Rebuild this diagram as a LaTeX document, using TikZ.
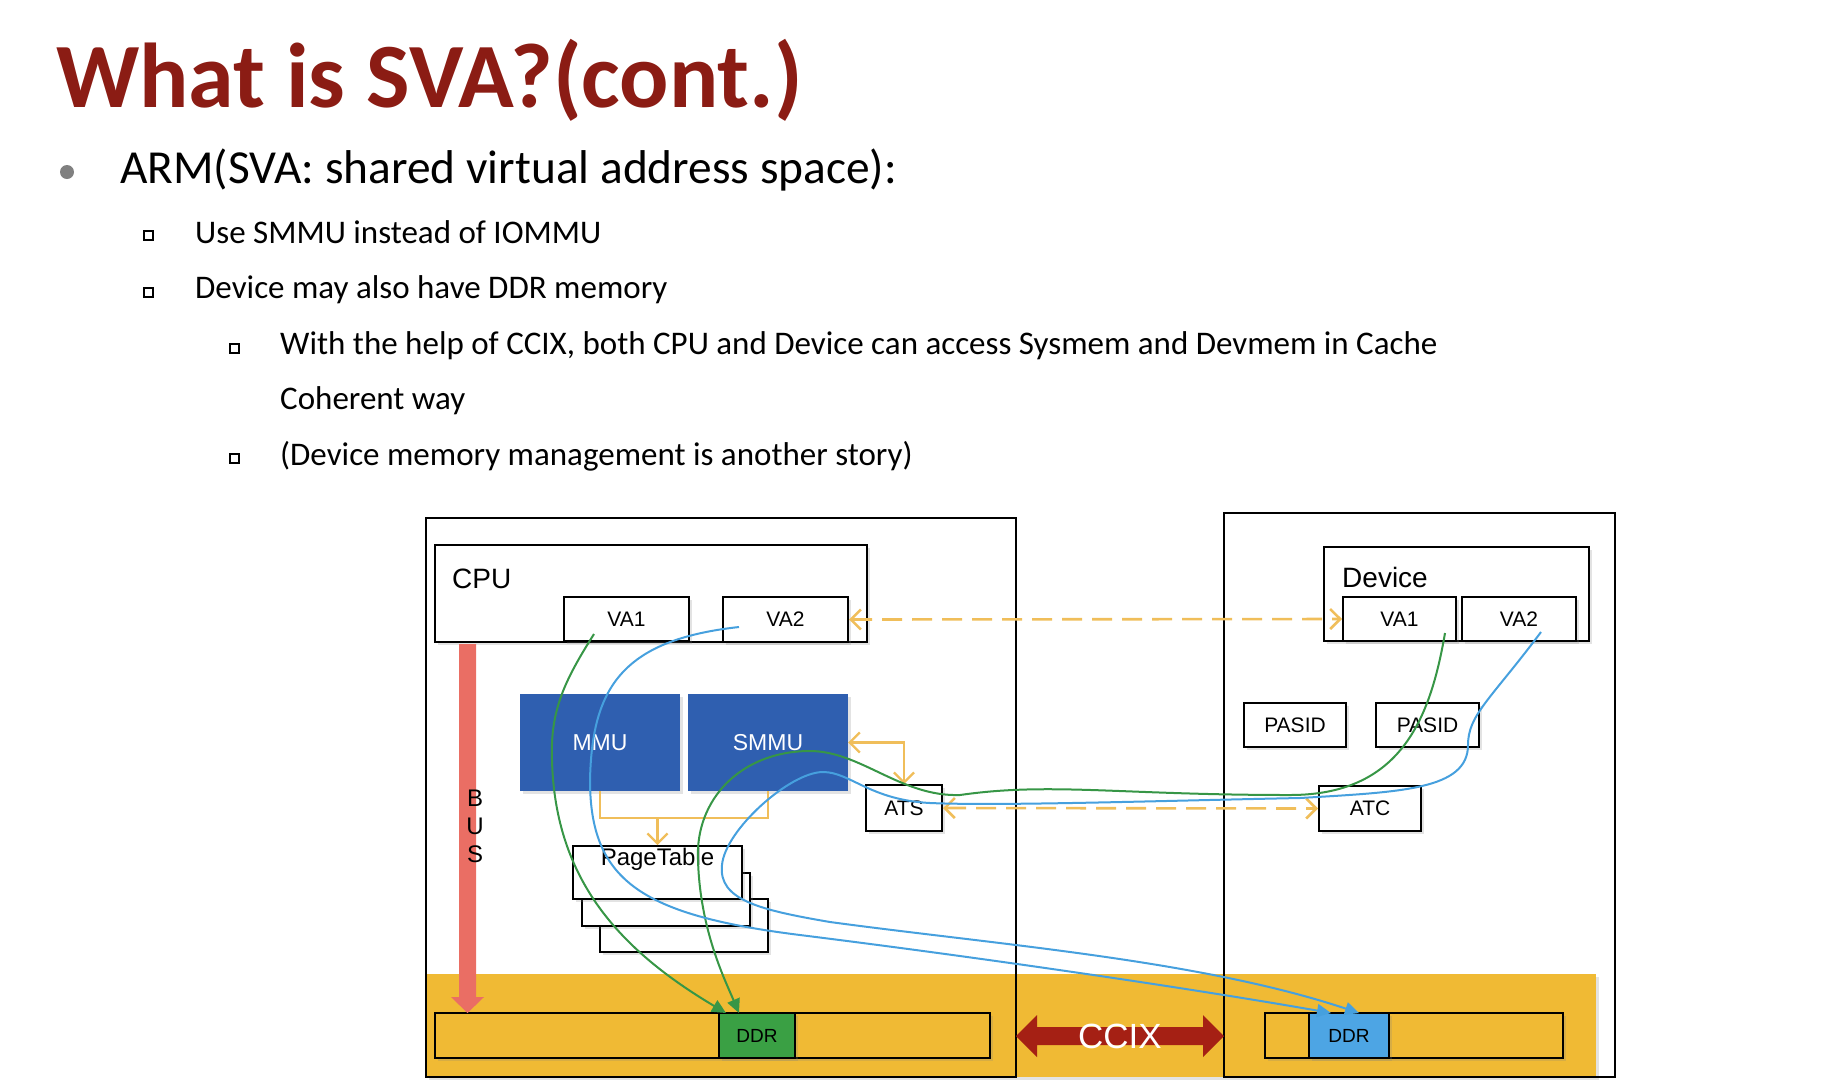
\documentclass[tikz,border=0pt]{standalone}
\usepackage{fontspec}
\setmainfont{Carlito}
\newfontfamily\arialf{Liberation Sans}
\usetikzlibrary{arrows.meta,shadows,calc}
\definecolor{titlered}{RGB}{139,28,20}
\definecolor{bandor}{RGB}{240,186,52}
\definecolor{mmublue}{RGB}{47,95,176}
\definecolor{ddrgreen}{RGB}{58,160,68}
\definecolor{ddrblue}{RGB}{77,165,228}
\definecolor{yel}{RGB}{240,190,90}
\definecolor{gline}{RGB}{55,150,70}
\definecolor{bline}{RGB}{70,160,222}
\definecolor{busred}{RGB}{234,110,100}
\definecolor{ccixred}{RGB}{165,32,20}
\begin{document}
\begin{tikzpicture}[x=1pt,y=-1pt,
  shd/.style={drop shadow={opacity=0.22,shadow xshift=3pt,shadow yshift=-3pt}},
  box/.style={draw,line width=2pt,fill=white,inner sep=0pt,shd,font=\arialf\fontsize{21}{21}\selectfont},
  bluebox/.style={fill=mmublue,inner sep=0pt,shd,text=white,font=\arialf\fontsize{23}{23}\selectfont},
  outer/.style={draw,line width=2pt,inner sep=0pt},
  bartxt/.style={font=\arialf\fontsize{19}{19}\selectfont},
  yline/.style={draw=yel,line width=2.2pt},
  ydash/.style={draw=yel,line width=2.6pt,dash pattern=on 20pt off 10pt},
  gcurve/.style={draw=gline,line width=2pt,-{Triangle[length=14pt,width=13pt]}},
  bcurve/.style={draw=bline,line width=2pt,-{Triangle[length=14pt,width=13pt]}},
  txt/.style={anchor=base west,inner sep=0pt},
  subtxt/.style={txt,font=\fontsize{33}{33}\selectfont},
  sq/.style={draw,line width=2pt,minimum size=9pt,inner sep=0pt}
]
\useasboundingbox (0,0) rectangle (1846,1088);
% ---------- text ----------
\node[txt,text=titlered,font=\bfseries\fontsize{92}{92}\selectfont] (title) at (56,107) {What is SVA?(cont.)};
\node[circle,fill=black!50,minimum size=14pt,inner sep=0pt] (b0) at (67,172) {};
\node[txt,font=\fontsize{47.4}{47.4}\selectfont] (l0) at (120,183) {ARM(SVA: shared virtual address space):};
\node[sq] (s1) at (148,235) {};
\node[subtxt] (l1) at (195,243) {Use SMMU instead of IOMMU};
\node[sq] (s2) at (148,292) {};
\node[subtxt] (l2) at (195,298) {Device may also have DDR memory};
\node[sq] (s3) at (234,348) {};
\node[subtxt] (l3) at (280,354) {With the help of CCIX, both CPU and Device can access Sysmem and Devmem in Cache};
\node[subtxt] (l4) at (280,409) {Coherent way};
\node[sq] (s5) at (234,458) {};
\node[subtxt] (l5) at (280,465) {(Device memory management is another story)};
% ---------- band ----------
\fill[bandor,shd] (426,974) rectangle (1596,1077);
% ---------- outer boxes ----------
\node[outer,minimum width=590pt,minimum height=559pt] (outL) at (721,797.5) {};
\node[outer,minimum width=391pt,minimum height=564pt] (outR) at (1419.5,795) {};
% ---------- CPU side ----------
\node[box,minimum width=432pt,minimum height=97pt] (cpu) at (651,593.5) {};
\node[anchor=base west,inner sep=0pt,font=\arialf\fontsize{28}{28}\selectfont] (cpul) at (452,588) {CPU};
\node[box,minimum width=125pt,minimum height=44pt] (cva1) at (626.5,619) {VA1};
\node[box,minimum width=125pt,minimum height=45pt] (cva2) at (785.5,619.5) {VA2};
\node[bluebox,minimum width=160pt,minimum height=97pt] (mmu) at (600,742.5) {MMU};
\node[bluebox,minimum width=160pt,minimum height=97pt] (smmu) at (768,742.5) {SMMU};
\node[box,minimum width=76pt,minimum height=46pt] (ats) at (904,808) {ATS};
\node[box,minimum width=168pt,minimum height=53pt] (pt3) at (684,925.5) {};
\node[box,minimum width=168pt,minimum height=53pt] (pt2) at (666,899.5) {};
\node[box,minimum width=169pt,minimum height=53pt] (pt1) at (657.5,872.5) {};
\node[anchor=base,inner sep=0pt,font=\arialf\fontsize{24}{24}\selectfont] (ptl) at (657.5,865) {PageTable};
\node[box,fill=bandor,minimum width=555pt,minimum height=45pt] (barL) at (712.5,1035.5) {};
\node[box,fill=ddrgreen,bartxt,minimum width=76pt,minimum height=45pt] (ddrL) at (757,1035.5) {DDR};
% BUS arrow
\fill[busred] (459,644) -- (476,644) -- (476,997) -- (484,997) -- (467.5,1013) -- (451,997) -- (459,997) -- cycle;
\node[align=center,inner sep=0pt,font=\arialf\fontsize{24}{28}\selectfont] (bus) at (475,826) {B\\U\\S};
% ---------- Device side ----------
\node[box,minimum width=265pt,minimum height=94pt] (dev) at (1456.5,594) {};
\node[anchor=base west,inner sep=0pt,font=\arialf\fontsize{28}{28}\selectfont] (devl) at (1342,587) {Device};
\node[box,minimum width=113pt,minimum height=44pt] (dva1) at (1399.5,619) {VA1};
\node[box,minimum width=114pt,minimum height=44pt] (dva2) at (1519,619) {VA2};
\node[box,minimum width=102pt,minimum height=44pt] (pasid1) at (1295,725) {PASID};
\node[box,minimum width=103pt,minimum height=44pt] (pasid2) at (1427.5,725) {PASID};
\node[box,minimum width=102pt,minimum height=45pt] (atc) at (1370,808.5) {ATC};
\node[box,fill=bandor,minimum width=298pt,minimum height=45pt] (barR) at (1414,1035.5) {};
\node[box,fill=ddrblue,bartxt,minimum width=80pt,minimum height=45pt] (ddrR) at (1349,1035.5) {DDR};
% CCIX arrow
\fill[ccixred] (1016,1036) -- (1037,1015) -- (1037,1027) -- (1203,1027) -- (1203,1015) -- (1224,1036) -- (1203,1057) -- (1203,1045) -- (1037,1045) -- (1037,1057) -- cycle;
\node[inner sep=0pt,text=white,font=\arialf\fontsize{35}{35}\selectfont] (ccix) at (1120,1036) {CCIX};
% ---------- yellow connectors ----------
\draw[yline,{Straight Barb[length=10pt,width=20pt]}-{Straight Barb[length=10pt,width=20pt]}] (smmu.east) -| (ats.north);
\coordinate (ptj) at (657.5,818);
\draw[yline] (mmu.south) |- (ptj);
\draw[yline] (smmu.south) |- (ptj);
\draw[yline,-{Straight Barb[length=10pt,width=20pt]}] (ptj) -- (pt1.north);
\draw[ydash,{Straight Barb[length=10pt,width=20pt]}-{Straight Barb[length=10pt,width=20pt]}] (cva2.east) -- (dva1.west);
\draw[ydash,{Straight Barb[length=10pt,width=20pt]}-{Straight Barb[length=10pt,width=20pt]}] (ats.east) -- (atc.west);
% ---------- curves ----------
\coordinate (g1s) at (594,634);
\coordinate (g1e) at (726,1013);
\draw[gcurve] (g1s) .. controls (565,680) and (550,710) .. (552,760)
   .. controls (555,880) and (620,950) .. (g1e);
\coordinate (g2s) at (1445,633);
\coordinate (g2e) at (739,1013);
\draw[gcurve] (g2s) .. controls (1430,720) and (1400,795) .. (1290,795)
   .. controls (1120,795) and (1050,782) .. (960,795)
   .. controls (900,797) and (860,750) .. (808,751)
   .. controls (740,752) and (695,800) .. (698,860)
   .. controls (700,930) and (725,980) .. (g2e);
\coordinate (b1s) at (739,627);
\coordinate (b1e) at (1331,1013);
\draw[bcurve] (b1s) .. controls (620,640) and (592,690) .. (590,780)
   .. controls (590,880) and (640,915) .. (800,935)
   .. controls (1000,960) and (1200,990) .. (b1e);
\coordinate (b2s) at (1541,632);
\coordinate (b2e) at (1359,1013);
\draw[bcurve] (b2s) .. controls (1490,700) and (1468,715) .. (1468,745)
   .. controls (1468,790) and (1400,792) .. (1300,798)
   .. controls (1150,801) and (1000,806) .. (930,803)
   .. controls (870,800) and (850,772) .. (823,772)
   .. controls (790,772) and (725,830) .. (722,865)
   .. controls (718,900) and (760,910) .. (830,922)
   .. controls (1000,945) and (1200,960) .. (b2e);
\end{tikzpicture}
\end{document}
